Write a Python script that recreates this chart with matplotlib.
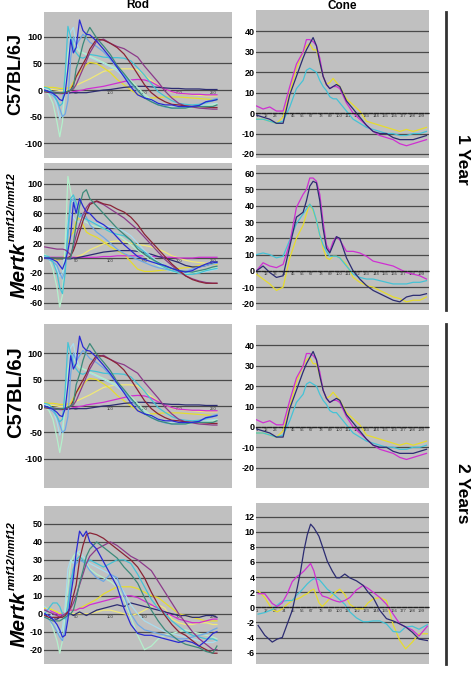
import matplotlib
matplotlib.use('Agg')
import matplotlib.pyplot as plt
from matplotlib.lines import Line2D

plt.rcParams['font.family'] = ['Liberation Sans', 'DejaVu Sans']

W, H = 472, 690

# ---- rod traces (time points shared by every rod trace) ----
rod_t = [4, 10, 16, 22, 26, 30, 34, 38, 42, 46, 50, 55, 60, 65, 70, 80, 90, 100, 110, 120,
         130, 140, 150, 160, 170, 180, 190, 200, 210, 220, 230, 240, 250, 256]

# C57BL/6J rod (same recordings shown at 1 year and 2 years)
wt_rod = {
    'blue':    [0, -3, -6, -12, -18, -20, -5, 40, 95, 70, 80, 132, 112, 105, 104, 92, 77, 61, 43, 25,
                6, -9, -15, -18, -25, -28, -28, -31, -31, -31, -29, -22, -20, -18],
    'teal':    [-2, -3, -5, -6, -6, -5, -4, -2, 0, 5, 40, 60, 86, 105, 118, 98, 83, 67, 46, 31,
                15, 0, -15, -22, -28, -31, -34, -34, -34, -31, -31, -31, -31, -28],
    'maroon':  [-3, -4, -5, -6, -6, -6, -5, -3, 0, 10, 25, 37, 49, 61, 77, 96, 94, 88, 80, 68,
                50, 30, 10, -5, -15, -22, -27, -28, -30, -31, -31, -32, -33, -33],
    'plum':    [-3, -4, -5, -6, -6, -6, -5, -3, 0, 2, 10, 25, 40, 55, 70, 92, 96, 88, 82, 78,
                70, 62, 45, 30, 15, -2, -15, -25, -30, -32, -34, -35, -36, -36],
    'cyan':    [5, 3, -5, -20, -30, -25, 30, 120, 100, 80, 70, 62, 60, 63, 67, 65, 62, 61, 61, 60,
                55, 42, 28, 12, -3, -12, -20, -25, -27, -28, -27, -24, -20, -18],
    'mint':    [-2, -8, -25, -60, -88, -60, 10, 70, 90, 95, 80, 72, 70, 68, 64, 58, 52, 46, 40, 30,
                18, 5, -8, -18, -25, -30, -33, -34, -34, -33, -32, -30, -28, -26],
    'sky':     [-2, -5, -10, -20, -35, -50, -45, -20, 60, 100, 85, 95, 105, 98, 90, 82, 72, 58, 42, 28,
                12, -2, -14, -22, -28, -32, -34, -34, -33, -31, -28, -22, -18, -16],
    'pale':    [3, 0, -8, -30, -55, -40, 0, 60, 110, 118, 90, 75, 70, 66, 62, 56, 50, 44, 36, 25,
                12, 0, -12, -20, -26, -30, -32, -33, -33, -32, -30, -28, -26, -25],
    'yellow':  [6, 5, 5, 4, 3, 3, 3, 4, 5, 15, 25, 33, 40, 48, 52, 50, 42, 33, 20, 10,
                0, -8, -13, -15, -14, -13, -13, -13, -14, -15, -16, -17, -18, -18],
    'yellow2': [3, 2, 1, 0, -1, -1, -1, 0, 1, 5, 9, 12, 15, 18, 21, 28, 35, 38, 40, 40,
                40, 38, 28, 18, 9, 2, -4, -6, -8, -9, -10, -11, -11, -11],
    'magenta': [-3, -4, -5, -6, -7, -7, -7, -6, -5, -3, -2, -1, 0, 2, 3, 5, 7, 10, 13, 16,
                19, 20, 19, 15, 8, 2, -3, -6, -7, -8, -8, -9, -9, -9],
    'navy':    [-1, -3, -4, -5, -6, -6, -6, -6, -5, -5, -5, -5, -5, -5, -4, -2, 0, 1, 3, 5,
                6, 7, 7, 6, 5, 4, 3, 3, 2, 2, 2, 1, 1, 1],
}

# Mertk nmf12 rod, 1 year
mut_rod_1y = {
    'blue':    [0, 0, -2, -5, -10, -15, -5, 10, 30, 75, 60, 80, 70, 62, 60, 50, 45, 38, 28, 18,
                10, 2, -2, -5, -8, -10, -14, -17, -19, -17, -12, -8, -5, -6],
    'teal':    [0, 0, 0, 0, 0, 0, 0, 0, 0, 20, 45, 70, 88, 92, 80, 70, 60, 50, 40, 32,
                24, 12, 5, -1, -6, -11, -14, -17, -18, -19, -17, -15, -12, -11],
    'maroon':  [0, 0, 0, 0, 0, 0, 0, 0, 3, 10, 20, 35, 50, 62, 72, 77, 73, 71, 66, 62,
                55, 45, 32, 22, 12, 2, -8, -16, -24, -29, -32, -34, -34, -34],
    'plum':    [15, 14, 13, 12, 12, 12, 11, 8, 4, 15, 30, 45, 58, 68, 74, 76, 72, 66, 60, 54,
                46, 38, 28, 18, 8, -2, -10, -18, -24, -28, -31, -33, -34, -34],
    'cyan':    [3, 2, -5, -20, -40, -48, -20, 40, 80, 85, 75, 60, 55, 52, 50, 45, 40, 35, 32, 30,
                24, 15, 8, 0, -8, -13, -17, -20, -22, -22, -20, -17, -15, -14],
    'mint':    [5, 0, -15, -40, -66, -50, 20, 110, 90, 70, 60, 55, 50, 48, 45, 42, 40, 35, 32, 25,
                18, 10, 3, -4, -10, -15, -18, -20, -21, -20, -18, -16, -14, -13],
    'sky':     [0, -2, -5, -10, -20, -28, -15, 30, 75, 80, 65, 55, 60, 55, 45, 35, 28, 20, 12, 6,
                2, -2, -6, -10, -13, -15, -17, -18, -18, -15, -12, -10, -8, -7],
    'pale':    [2, 0, -5, -15, -25, -20, 10, 50, 60, 55, 50, 48, 50, 52, 50, 46, 44, 42, 40, 36,
                30, 20, 10, 2, -5, -10, -14, -17, -19, -20, -20, -18, -16, -15],
    'yellow':  [2, 0, -2, -3, -2, 0, 5, 20, 30, 35, 50, 55, 45, 35, 32, 28, 22, 15, 10, 5,
                -5, -15, -18, -18, -17, -16, -15, -14, -13, -12, -10, -9, -8, -8],
    'yellow2': [0, 0, 0, 0, 0, 0, 0, 0, 0, 0, 2, 3, 5, 8, 11, 15, 19, 22, 23, 22,
                20, 18, 17, 15, 12, 8, 3, 0, -3, -5, -6, -7, -8, -8],
    'magenta': [1, 1, 1, 1, 1, 1, 1, 1, 1, 1, 1, 1, 1, 1, 1, 1, 2, 2, 3, 3,
                3, 3, 3, 2, 2, 1, 1, 0, 0, 0, 1, 1, 1, 1],
    'navy':    [0, 0, 0, -1, -1, -1, -1, -1, -1, 0, 0, 1, 2, 3, 4, 6, 8, 9, 10, 10,
                10, 9, 7, 5, 2, 0, -3, -6, -10, -12, -12, -10, -7, -5],
}

# Mertk nmf12 rod, 2 years
mut_rod_2y = {
    'blue':    [0, -1, -3, -6, -9, -13, -12, -3, 10, 20, 34, 46, 43, 46, 40, 36, 29, 22, 15, 3,
                -6, -11, -12, -12, -13, -14, -15, -16, -15, -16, -18, -15, -11, -10],
    'teal':    [-2, -3, -4, -4, -4, -3, -2, -1, 0, 2, 8, 17, 24, 32, 36, 40, 37, 34, 31, 26,
                22, 17, 9, 2, -4, -9, -12, -15, -17, -18, -19, -21, -22, -18],
    'maroon':  [-1, -2, -2, -2, -2, -2, -1, 1, 4, 10, 16, 30, 38, 44, 45, 44, 42, 39, 36, 33,
                30, 26, 20, 12, 5, -1, -6, -10, -12, -15, -18, -20, -22, -22],
    'plum':    [2, 1, 0, -1, -2, -1, 0, 1, 3, 6, 10, 16, 22, 28, 32, 36, 38, 40, 38, 35,
                32, 30, 27, 24, 18, 12, 6, 0, -5, -10, -14, -17, -20, -20],
    'cyan':    [0, 3, 6, 6, 4, 0, -3, 5, 15, 25, 30, 32, 30, 28, 30, 28, 26, 28, 30, 30,
                28, 22, 15, 8, 3, 0, -4, -7, -10, -12, -13, -14, -14, -15],
    'mint':    [2, -2, -8, -15, -22, -15, 0, 15, 28, 32, 34, 33, 30, 28, 25, 22, 20, 18, 15, 8,
                -2, -12, -20, -18, -14, -12, -11, -10, -9, -10, -11, -12, -13, -14],
    'sky':     [-1, -3, -6, -10, -13, -15, -8, 5, 18, 25, 28, 30, 29, 27, 24, 20, 18, 22, 20, 10,
                0, -6, -9, -10, -11, -12, -13, -14, -14, -13, -12, -11, -9, -8],
    'pale':    [4, 2, -2, -8, -12, -8, 5, 25, 30, 28, 33, 35, 32, 30, 28, 26, 24, 22, 18, 12,
                5, 0, -4, -6, -8, -10, -11, -12, -13, -14, -15, -16, -16, -15],
    'yellow':  [3, 3, 2, 1, 0, 0, 1, 1, 2, 2, 2, 3, 4, 5, 6, 8, 11, 13, 15, 15,
                15, 14, 12, 10, 9, 6, 3, 0, -1, -2, -3, -4, -4, -4],
    'yellow2': [3, 3, 2, 1, 0, 0, 0, 0, 0, 0, 0, 0, 0, 0, 0, 1, 2, 2, 1, 0,
                -1, 0, 2, 4, 5, 3, -3, -5, -6, -6, -5, -5, -6, -6],
    'magenta': [2, 2, 1, 0, -1, 0, 1, 2, 2, 2, 2, 3, 3, 4, 5, 6, 7, 8, 9, 10,
                10, 9, 7, 5, 3, 1, -1, -3, -4, -5, -5, -4, -3, -3],
    'navy':    [0, -2, -3, -3, -2, -1, 0, 0, 0, -1, 0, 1, 0, -1, 0, 2, 3, 4, 5, 4,
                6, 5, 4, 3, 2, 1, 0, -1, -1, -2, -2, -1, -1, -2],
}

# ---- cone traces ----
cone_t = [1, 9, 17, 25, 33, 41, 49, 57, 61, 65, 69, 73, 77, 81, 85, 89, 93, 97, 101, 109,
          117, 125, 133, 141, 149, 157, 165, 173, 181, 189, 197, 205]

wt_cone = {
    'navy':    [-1, -2, -3, -5, -5, 9, 18, 27, 31, 34, 37, 33, 25, 18, 14, 12, 13, 14, 13, 6,
                2, -2, -6, -9, -10, -10, -12, -13, -13, -13, -12, -11],
    'magenta': [3.5, 2, 3, 1, 1, 13, 24, 30, 36, 36, 35, 33, 27, 18, 14, 12, 13, 13, 12, 5,
                0, -3, -6, -9, -11, -12, -13, -15, -16, -15, -14, -13],
    'yellow':  [-3, -3, -4, -5, -2, 10, 22, 30, 33, 34, 31, 31, 25, 18, 14, 15, 17, 15, 13, 7,
                4, 1, -4, -5, -6, -7, -8, -9, -8, -9, -8, -7],
    'cyan':    [-3, -3, -4, -5, -4, 3, 12, 16, 21, 22, 21, 20, 16, 13, 11, 8, 7, 7, 5, 1,
                -3, -5, -7, -8, -9, -10, -10, -11, -11, -10, -10, -9],
}

mut_cone_1y = {
    'navy':    [0, 3, -1, -4, -3, 15, 33, 36, 43, 52, 55, 54, 43, 26, 14, 11, 16, 21, 20, 8,
                0, -5, -9, -12, -14, -16, -18, -19, -16, -15, -15, -14],
    'magenta': [0, 5, 3, 2, 4, 17, 39, 47, 50, 57, 57, 55, 47, 30, 16, 12, 18, 21, 19, 12,
                12, 11, 9, 6, 5, 4, 3, 1, -1, -2, -3, -5],
    'yellow':  [-2, -5, -8, -12, -10, 8, 20, 28, 35, 41, 37, 31, 22, 14, 8, 7, 9, 9, 8, 4,
                -4, -7, -9, -10, -12, -14, -16, -17, -19, -18, -18, -16],
    'cyan':    [10, 11, 10, 8, 9, 19, 29, 35, 38, 41, 38, 31, 22, 16, 12, 9, 9, 9, 8, 3,
                -2, -4, -5, -5, -6, -7, -8, -8, -8, -7, -7, -6],
}

cone_t2 = [3, 11, 20, 26, 32, 38, 44, 50, 54, 58, 62, 66, 70, 76, 80, 86, 92, 97, 101, 107,
           113, 121, 129, 135, 141, 149, 157, 165, 173, 180, 188, 196, 206]

mut_cone_2y = {
    'navy':    [-2.4, -3.7, -4.6, -4.2, -4.0, -2.2, -0.4, 2.6, 4.8, 7.5, 9.6, 11.0, 10.5, 9.4, 8.1,
                6.1, 4.8, 3.9, 3.9, 4.4, 3.9, 3.5, 2.9, 2.0, 1.3, -0.4, -1.5, -1.8, -2.2, -2.6,
                -3.3, -4.2, -4.4],
    'magenta': [1.8, 1.8, 0.5, 0.1, 0.6, 1.8, 3.4, 4.1, 4.4, 4.8, 5.3, 5.8, 4.8, 2.2, 1.5,
                1.3, 1.0, 0.8, 0.7, 0.9, 1.3, 2.3, 2.9, 2.5, 2.0, 1.3, 0.4, -0.9, -2.2, -2.6,
                -3.0, -3.8, -2.5],
    'yellow':  [2.2, 1.3, -0.3, -0.6, -0.2, 0.4, 0.9, 1.1, 1.3, 1.6, 1.8, 2.2, 2.4, 0.6, 0.1,
                0.8, 1.6, 2.1, 2.4, 1.7, 0.4, -0.2, -0.2, 0.6, 1.1, 1.3, 0.9, -2.3, -4.4, -5.5,
                -4.6, -3.5, -3.5],
    'cyan':    [-0.9, -0.7, -0.3, 0.3, 0.8, 0.9, 0.9, 1.7, 2.1, 2.6, 3.1, 3.5, 3.8, 3.7, 3.2,
                2.4, 1.9, 1.4, 1.0, 0.4, -0.6, -1.4, -1.9, -1.9, -1.8, -1.8, -2.2, -3.2, -3.3,
                -2.6, -2.5, -2.9, -2.3],
}

rod_ticks = [50, 100, 150, 200, 250]
cone_ticks = [1, 12, 23, 34, 45, 56, 67, 78, 89, 100, 111, 122, 133, 144, 155, 166, 177, 188, 199]

colors = {
    'blue': '#2a2ad2', 'teal': '#3d8a7a', 'maroon': '#8a2436', 'plum': '#8c3a8a',
    'cyan': '#45c3d6', 'mint': '#b4f0cc', 'sky': '#6ea8e6', 'pale': '#a8dcee',
    'yellow': '#e6dc2e', 'yellow2': '#f0e878', 'magenta': '#cf2fd2', 'navy': '#2c2c72',
}
draw_order = ['yellow2', 'yellow', 'magenta', 'navy', 'pale', 'mint', 'sky', 'cyan',
              'plum', 'maroon', 'teal', 'blue']


def rect(x0, y0, x1, y1):
    return [x0 / W, 1 - y1 / H, (x1 - x0) / W, (y1 - y0) / H]


def style(ax, yticks, ylim, ylabels=None):
    ax.set_facecolor('#c0c0c0')
    for s in ['top', 'left', 'right']:
        ax.spines[s].set_visible(False)
    ax.spines['bottom'].set_position(('data', 0))
    ax.set_ylim(*ylim)
    ax.set_yticks(yticks)
    if ylabels is None:
        ylabels = [str(v) for v in yticks]
    ax.set_yticklabels(ylabels, fontsize=6.5, fontweight='bold')
    ax.tick_params(axis='y', length=0, pad=1)
    ax.tick_params(axis='x', length=0, pad=1, labelsize=3, labelcolor='#303030')
    ax.set_axisbelow(True)
    ax.grid(axis='y', color='#4a4a4a', lw=0.9)


def rod_panel(box, traces, yticks, ylim, ylabels=None):
    ax = fig.add_axes(rect(*box))
    for name in draw_order:
        if name in traces:
            ax.plot(rod_t, traces[name], color=colors[name], lw=0.9)
    ax.set_xlim(3, 278)
    ax.set_xticks(rod_ticks)
    style(ax, yticks, ylim, ylabels)
    ax.spines['bottom'].set_visible(False)
    return ax


def cone_panel(box, t, traces, yticks, ylim):
    ax = fig.add_axes(rect(*box))
    for name in ['yellow', 'cyan', 'magenta', 'navy']:
        ax.plot(t, traces[name], color=colors[name], lw=0.9)
    ax.set_xlim(0.5, 208)
    ax.set_xticks(cone_ticks)
    style(ax, yticks, ylim)
    ax.spines['bottom'].set_linestyle((0, (3, 1.5)))
    ax.spines['bottom'].set_color('#202020')
    ax.spines['bottom'].set_linewidth(0.9)
    return ax


fig = plt.figure(figsize=(W / 100, H / 100), dpi=100)

rod_panel((44, 12, 232, 158), wt_rod, [-100, -50, 0, 50, 100], (-128, 147))
rod_panel((44, 163, 232, 310), mut_rod_1y, [-60, -40, -20, 0, 20, 40, 60, 80, 100, 120],
          (-70, 128), ['-60', '-40', '-20', '0', '20', '40', '60', '80', '100', ''])
rod_panel((44, 324, 232, 488), wt_rod, [-100, -50, 0, 50, 100], (-155, 155))
rod_panel((44, 506, 232, 664), mut_rod_2y, [-20, -10, 0, 10, 20, 30, 40, 50], (-28, 60))

cone_panel((256, 10, 429, 158), cone_t, wt_cone, [-20, -10, 0, 10, 20, 30, 40], (-22, 50.5))
cone_panel((256, 165, 429, 310), cone_t, mut_cone_1y, [-20, -10, 0, 10, 20, 30, 40, 50, 60], (-24, 65))
cone_panel((256, 325, 429, 488), cone_t, wt_cone, [-20, -10, 0, 10, 20, 30, 40], (-30, 50))
cone_panel((256, 503, 429, 664), cone_t2, mut_cone_2y, [-6, -4, -2, 0, 2, 4, 6, 8, 10, 12], (-7.5, 13.8))

# column titles
fig.text(138 / W, 1 - 5 / H, 'Rod', ha='center', va='center', fontsize=8.5, fontweight='bold')
fig.text(342 / W, 1 - 6 / H, 'Cone', ha='center', va='center', fontsize=8.5, fontweight='bold')

# row labels
fig.text(16 / W, 1 - 74 / H, 'C57BL/6J', rotation=90, ha='center', va='center',
         fontsize=13, fontweight='bold')
fig.text(16 / W, 1 - 392 / H, 'C57BL/6J', rotation=90, ha='center', va='center',
         fontsize=14.5, fontweight='bold')

renderer = fig.canvas.get_renderer()
for y_start in [298, 647]:
    t1 = fig.text(25 / W, 1 - y_start / H, 'Mertk', rotation=90, rotation_mode='anchor',
                  ha='left', va='baseline', fontsize=15, fontweight='bold', fontstyle='italic')
    ext = t1.get_window_extent(renderer)
    fig.text(15 / W, ext.y1 / fig.bbox.height + 0.002, 'nmf12/nmf12', rotation=90,
             rotation_mode='anchor', ha='left', va='baseline', fontsize=8,
             fontweight='bold', fontstyle='italic')

# age brackets
fig.add_artist(Line2D([446 / W, 446 / W], [1 - 12 / H, 1 - 310 / H], color='#333333', lw=2))
fig.add_artist(Line2D([446 / W, 446 / W], [1 - 324 / H, 1 - 664 / H], color='#333333', lw=2))
fig.text(463 / W, 1 - 159 / H, '1 Year', rotation=-90, ha='center', va='center',
         fontsize=12.5, fontweight='bold')
fig.text(463 / W, 1 - 493 / H, '2 Years', rotation=-90, ha='center', va='center',
         fontsize=12.5, fontweight='bold')

fig.savefig('out.png', dpi=100)
